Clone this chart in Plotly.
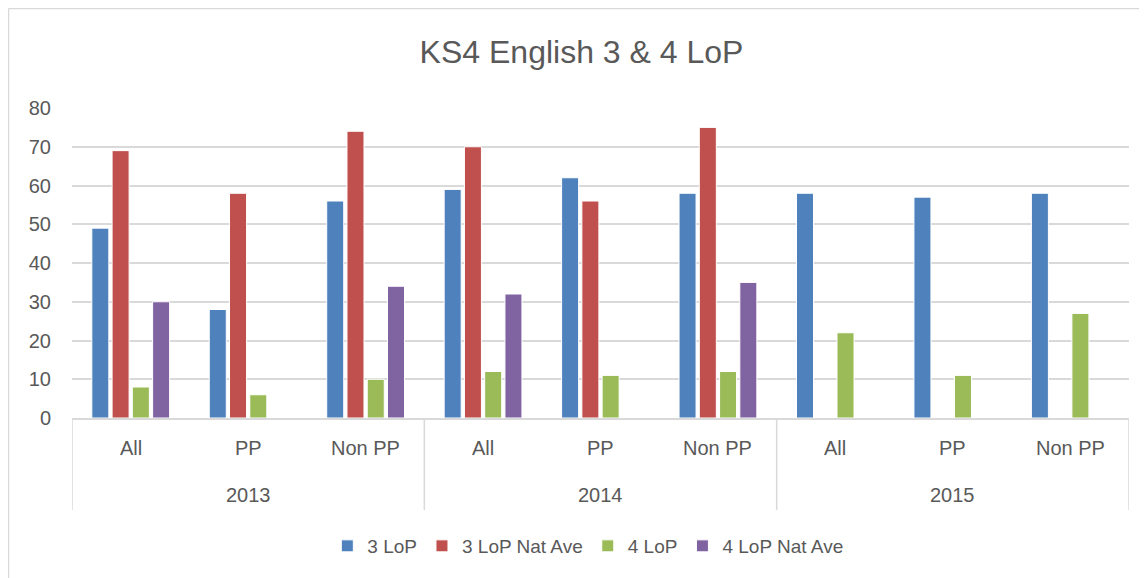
import plotly.graph_objects as go

years = ["2013", "2014", "2015"]
groups = ["All", "PP", "Non PP"]
cats = [f"{y} {g}" for y in years for g in groups]

lop3 = [49, 28, 56, 59, 62, 58, 58, 57, 58]
lop3_nat = [69, 58, 74, 70, 56, 75, None, None, None]
lop4 = [8, 6, 10, 12, 11, 12, 22, 11, 27]
lop4_nat = [30, None, 34, 32, None, 35, None, None, None]

series = [
    ("3 LoP", lop3, "#4F81BD"),
    ("3 LoP Nat Ave", lop3_nat, "#C0504D"),
    ("4 LoP", lop4, "#9BBB59"),
    ("4 LoP Nat Ave", lop4_nat, "#8064A2"),
]

font = "Liberation Sans"
grey = "#595959"
line_grey = "#D9D9D9"

fig = go.Figure()
for name, vals, col in series:
    fig.add_trace(go.Bar(
        x=cats, y=vals, name=name,
        marker=dict(color=col, line=dict(color="white", width=1)),
    ))

# page is shown with an 8px body offset
W, H = 1147, 578
l, r, t, b = 64, 26, 100, 168
pw, ph = W - l - r, H - t - b

def px(x):
    return (x - l) / pw

def py(y):
    return (H - b - y) / ph

# two-level category labels
for i, c in enumerate(cats):
    fig.add_annotation(x=c, xref="x", y=py(440), yref="paper",
                       text=c.split(" ", 1)[1], showarrow=False,
                       font=dict(size=20, color=grey), yanchor="middle")
for k, yr in enumerate(years):
    fig.add_annotation(x=3 * k + 1, xref="x", y=py(487), yref="paper",
                       text=yr, showarrow=False,
                       font=dict(size=20, color=grey), yanchor="middle")
for k in range(len(years) + 1):
    fig.add_shape(type="line", xref="x", yref="paper",
                  x0=3 * k - 0.5, x1=3 * k - 0.5, y0=0, y1=py(502),
                  line=dict(color=line_grey, width=1.5))

fig.update_layout(
    width=W, height=H,
    margin=dict(l=l, r=r, t=t, b=b),
    paper_bgcolor="white", plot_bgcolor="white",
    barmode="group", bargap=0.31, bargroupgap=0.16,
    title=dict(text="KS4 English 3 & 4 LoP", x=0.5, xanchor="center",
               y=1 - 44 / H, yanchor="middle",
               font=dict(family=font, size=32, color=grey)),
    font=dict(family=font, color=grey),
    xaxis=dict(showline=True, linecolor=line_grey, linewidth=1.5,
               showticklabels=False, ticks="", showgrid=False,
               range=[-0.5, 8.5]),
    yaxis=dict(range=[0, 80], dtick=10, showgrid=True, gridcolor=line_grey,
               gridwidth=1.5, zeroline=False, showline=False,
               tickfont=dict(size=20, color=grey), ticks="",
               ticklabelstandoff=20),
    legend=dict(orientation="h", x=0.488, xanchor="center",
                y=py(538), yanchor="middle",
                font=dict(size=19, color=grey), itemwidth=30,
                traceorder="normal"),
    showlegend=True,
)

# chart frame edges (left and top) as in the source image
fig.add_shape(type="line", xref="paper", yref="paper",
              x0=px(0.5), x1=px(0.5), y0=py(0.5), y1=py(H),
              line=dict(color=line_grey, width=1.5))
fig.add_shape(type="line", xref="paper", yref="paper",
              x0=px(0.5), x1=px(W), y0=py(0.5), y1=py(0.5),
              line=dict(color=line_grey, width=1.5))

fig.write_html("out.html")
